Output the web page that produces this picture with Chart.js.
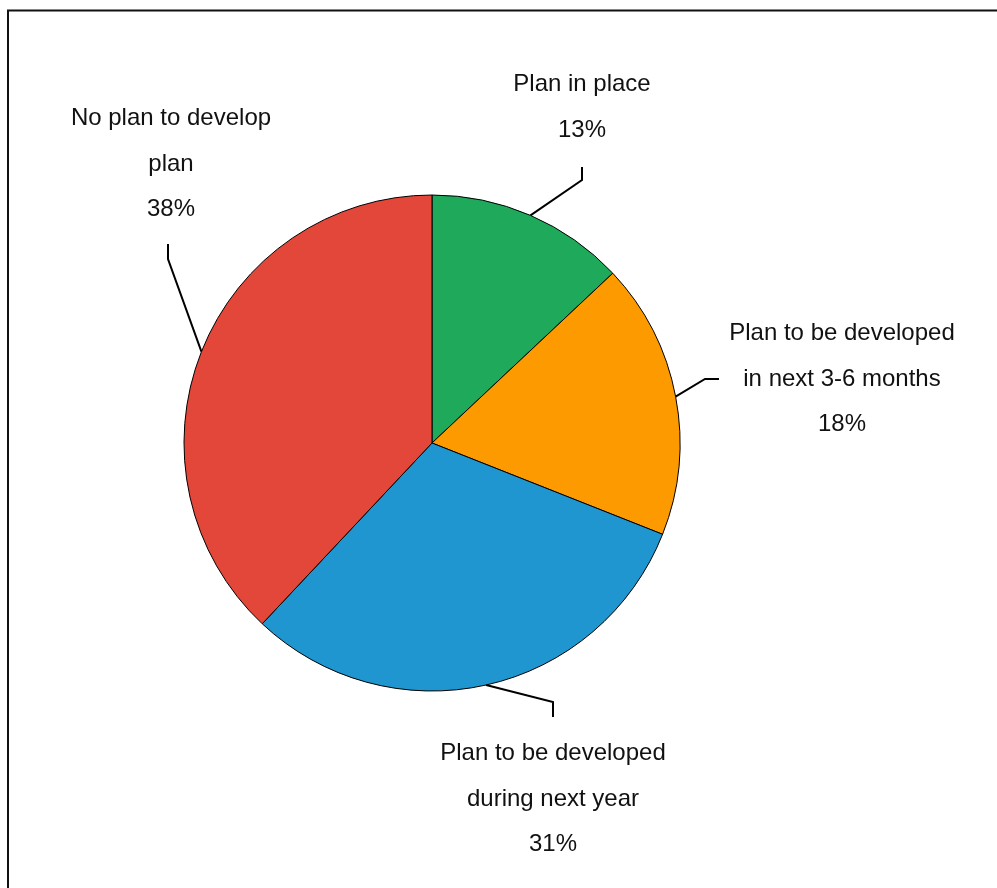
<!DOCTYPE html>
<html>
<head>
<meta charset="utf-8">
<title>Plan status</title>
<script src="https://cdn.jsdelivr.net/npm/chart.js@4.4.1/dist/chart.umd.min.js"></script>
<style>
  html, body { margin: 0; padding: 0; background: #ffffff; overflow: hidden; }
  #wrap { position: relative; width: 997px; height: 888px; }
  canvas { display: block; }
</style>
</head>
<body>
<div id="wrap"><canvas id="chart" width="997" height="888"></canvas></div>
<script>
// Categories (one entry per line of the label) and their shares in percent
const categories = [
  ['Plan in place'],
  ['Plan to be developed', 'in next 3-6 months'],
  ['Plan to be developed', 'during next year'],
  ['No plan to develop', 'plan']
];
const shares = [13, 18, 31, 38];
const sliceColors = ['#1eaa5a', '#fc9a00', '#2096d0', '#e3473a'];

// Leader line elbow/tail and text anchor, relative to the pie centre
const labelLayout = [
  { elbow: [150, -263], tail: [150, -276], textX: 150, firstBaseline: -352 },
  { elbow: [273, -64],  tail: [287, -64],  textX: 410, firstBaseline: -103 },
  { elbow: [121, 259],  tail: [121, 274],  textX: 121, firstBaseline: 317 },
  { elbow: [-264, -184], tail: [-264, -199], textX: -261, firstBaseline: -318 }
];
const LINE_HEIGHT = 45.5;
const FONT = '24px "Liberation Sans", Arial, sans-serif';

// Outer frame around the figure
const framePlugin = {
  id: 'frame',
  beforeDraw(chart) {
    const ctx = chart.ctx;
    ctx.save();
    ctx.fillStyle = '#ffffff';
    ctx.fillRect(0, 0, chart.width, chart.height);
    ctx.strokeStyle = '#111111';
    ctx.lineWidth = 2;
    ctx.strokeRect(8, 10.5, chart.width + 50, chart.height + 50);
    ctx.restore();
  }
};

// Leader lines and category / percentage labels
const calloutPlugin = {
  id: 'callouts',
  afterDatasetsDraw(chart) {
    const ctx = chart.ctx;
    const meta = chart.getDatasetMeta(0);
    ctx.save();
    meta.data.forEach((arc, i) => {
      const { x: cx, y: cy, startAngle, endAngle, outerRadius } = arc.getProps(
        ['x', 'y', 'startAngle', 'endAngle', 'outerRadius'], true);
      const mid = (startAngle + endAngle) / 2;
      const ex = cx + Math.cos(mid) * outerRadius;
      const ey = cy + Math.sin(mid) * outerRadius;
      const lay = labelLayout[i];

      ctx.strokeStyle = '#000000';
      ctx.lineWidth = 2;
      ctx.lineJoin = 'miter';
      ctx.beginPath();
      ctx.moveTo(ex, ey);
      ctx.lineTo(cx + lay.elbow[0], cy + lay.elbow[1]);
      ctx.lineTo(cx + lay.tail[0], cy + lay.tail[1]);
      ctx.stroke();

      const lines = categories[i].concat([shares[i] + '%']);
      ctx.fillStyle = '#111111';
      ctx.font = FONT;
      ctx.textAlign = 'center';
      ctx.textBaseline = 'alphabetic';
      lines.forEach((t, k) => {
        ctx.fillText(t, cx + lay.textX, cy + lay.firstBaseline + k * LINE_HEIGHT);
      });
    });
    ctx.restore();
  }
};

new Chart(document.getElementById('chart'), {
  type: 'pie',
  data: {
    labels: categories,
    datasets: [{
      data: shares,
      backgroundColor: sliceColors,
      borderColor: '#000000',
      borderWidth: 1
    }]
  },
  options: {
    responsive: false,
    animation: false,
    radius: 248,
    layout: { padding: { left: 184, right: 317, top: 195, bottom: 197 } },
    plugins: {
      legend: { display: false },
      tooltip: { enabled: false }
    }
  },
  plugins: [framePlugin, calloutPlugin]
});
</script>
</body>
</html>
